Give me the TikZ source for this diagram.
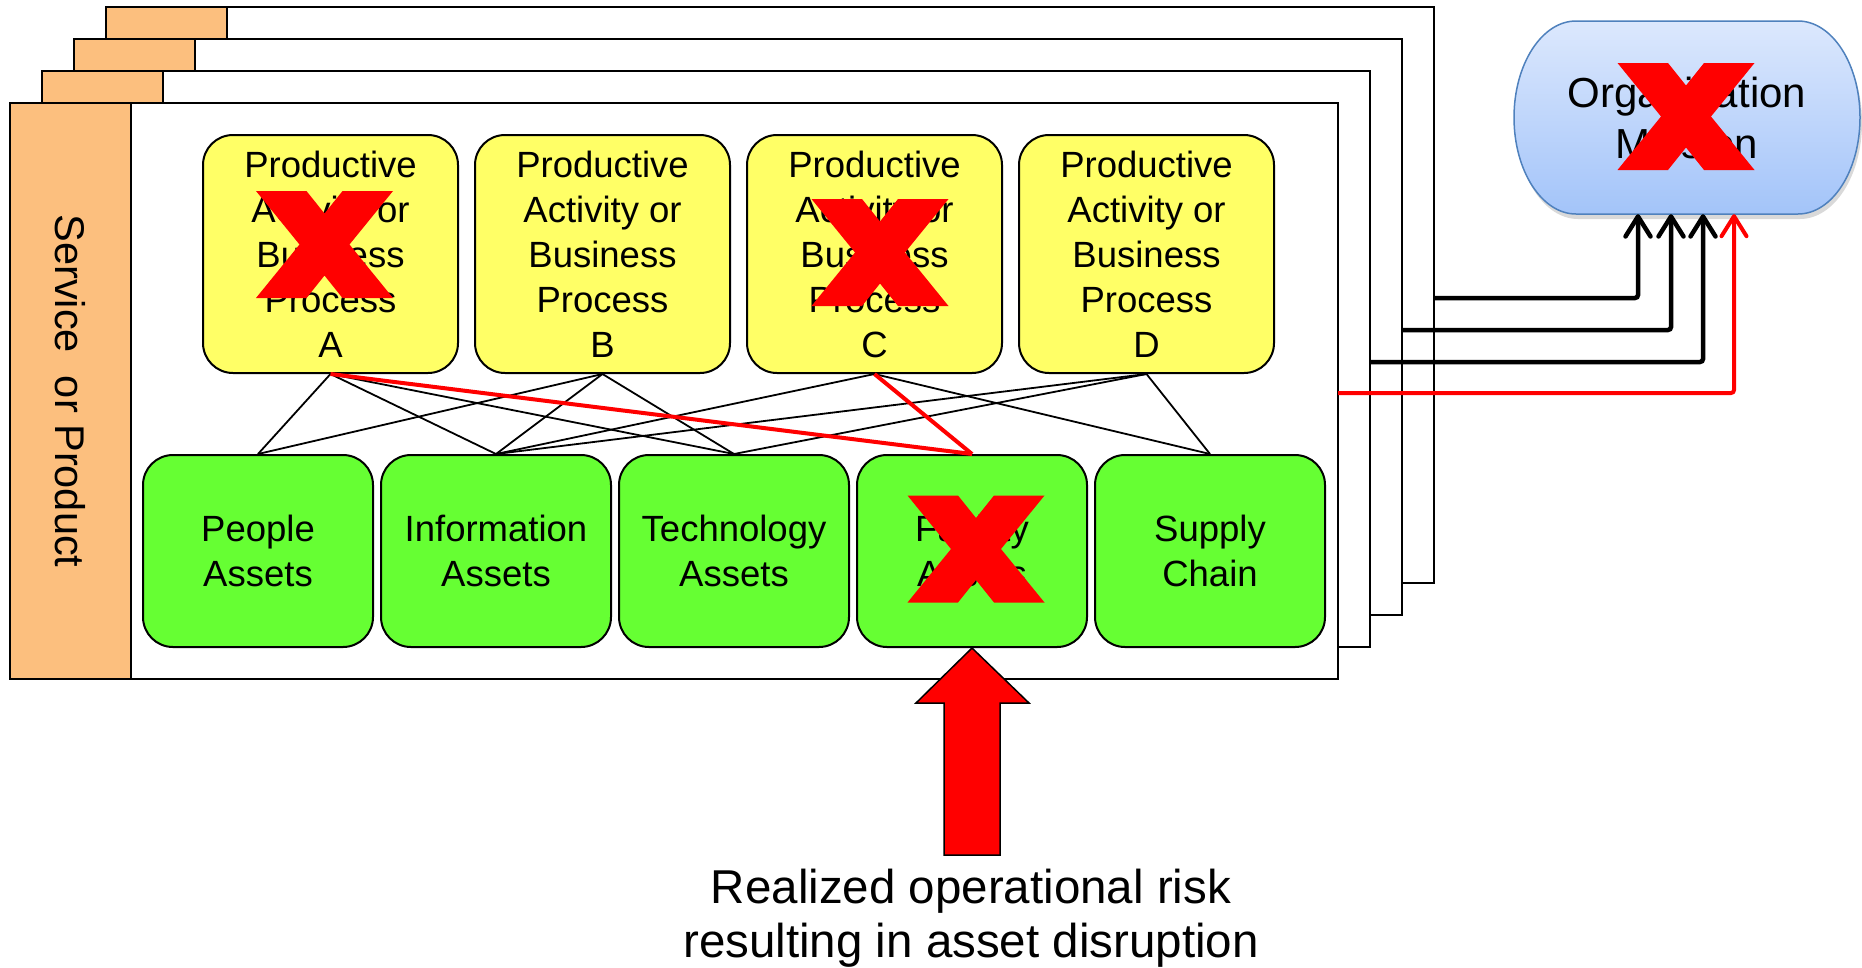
\documentclass[tikz,border=0pt]{standalone}
\usepackage{fontspec}
\setmainfont{Liberation Sans}
\usetikzlibrary{arrows.meta,shadows}
\definecolor{orangeC}{HTML}{FCBF7E}
\definecolor{yellowC}{HTML}{FFFF66}
\definecolor{greenC}{HTML}{66FF33}
\definecolor{blueTop}{HTML}{DCE8FD}
\definecolor{blueBot}{HTML}{A3C4F9}
\definecolor{blueLine}{HTML}{4F81BD}
\tikzset{
  framebox/.style={draw=black,line width=2.5pt,fill=white,inner sep=0pt,outer sep=0pt,minimum width=1328pt,minimum height=576pt},
  bandbox/.style={draw=black,line width=2.5pt,fill=orangeC},
  procbox/.style={draw=black,line width=2pt,fill=yellowC,rounded corners=30pt,minimum width=255pt,minimum height=238pt,align=center,inner sep=0pt,font=\fontsize{36.5}{45}\selectfont},
  assetbox/.style={draw=black,line width=2pt,fill=greenC,rounded corners=30pt,minimum width=230pt,minimum height=192pt,align=center,inner sep=0pt,font=\fontsize{36.5}{45}\selectfont},
  link/.style={line width=1.8pt,black},
  redlink/.style={line width=4pt,red},
  missionarrow/.style={line width=4.5pt,rounded corners=3pt,-{Straight Barb[length=20pt,width=25pt,round]}},
  redx/.pic={\fill[red] (-68.5,-53.5) -- (-18,-53.5) -- (0,-31) -- (18,-53.5) -- (68.5,-53.5) -- (25,0) -- (68.5,53.5) -- (18,53.5) -- (0,31) -- (-18,53.5) -- (-68.5,53.5) -- (-25,0) -- cycle;}
}
\begin{document}
\begin{tikzpicture}[x=1pt,y=-1pt]
\useasboundingbox (0,0) rectangle (1862,967);
% stacked frames, back to front
\node[framebox] (f4) at (770,295) {};
\draw[bandbox] (f4.north west) rectangle ++(121,576);
\node[framebox] (f3) at (738,327) {};
\draw[bandbox] (f3.north west) rectangle ++(121,576);
\node[framebox] (f2) at (706,359) {};
\draw[bandbox] (f2.north west) rectangle ++(121,576);
\node[framebox] (f1) at (674,391) {};
\draw[bandbox] (f1.north west) rectangle ++(121,576);
\node[rotate=-90,font=\fontsize{41.5}{48}\selectfont,inner sep=0pt] (svc) at (70.5,391) {Service\ \ or Product};
% processes
\node[procbox] (pA) at (330.5,254) {Productive\\Activity or\\Business\\Process\\A};
\node[procbox] (pB) at (602.5,254) {Productive\\Activity or\\Business\\Process\\B};
\node[procbox] (pC) at (874.5,254) {Productive\\Activity or\\Business\\Process\\C};
\node[procbox] (pD) at (1146.5,254) {Productive\\Activity or\\Business\\Process\\D};
% assets
\node[assetbox] (gP) at (258,551) {People\\Assets};
\node[assetbox] (gI) at (496,551) {Information\\Assets};
\node[assetbox] (gT) at (734,551) {Technology\\Assets};
\node[assetbox] (gF) at (972,551) {Facility\\Assets};
\node[assetbox] (gS) at (1210,551) {Supply\\Chain};
% links
\draw[link] (pA.south) -- (gP.north);
\draw[link] (pA.south) -- (gI.north);
\draw[link] (pA.south) -- (gT.north);
\draw[link] (pB.south) -- (gP.north);
\draw[link] (pB.south) -- (gI.north);
\draw[link] (pB.south) -- (gT.north);
\draw[link] (pC.south) -- (gI.north);
\draw[link] (pC.south) -- (gS.north);
\draw[link] (pD.south) -- (gI.north);
\draw[link] (pD.south) -- (gT.north);
\draw[link] (pD.south) -- (gS.north);
\draw[redlink] (pA.south) -- (gF.north);
\draw[redlink] (pC.south) -- (gF.north);
% red crosses
\pic at (324.5,244.5) {redx};
\pic at (880,252.5) {redx};
\pic at (976,549) {redx};
% organization mission
\path[draw=blueLine,line width=1.5pt,top color=blueTop,bottom color=blueBot,
  drop shadow={opacity=0.3,shadow xshift=2pt,shadow yshift=-5pt}]
  (1576,21) -- (1798,21) .. controls (1832.2,21) and (1860,64.2) .. (1860,117.5)
  .. controls (1860,170.8) and (1832.2,214) .. (1798,214) -- (1576,214)
  .. controls (1541.8,214) and (1514,170.8) .. (1514,117.5)
  .. controls (1514,64.2) and (1541.8,21) .. (1576,21) -- cycle;
\node[font=\fontsize{42}{51}\selectfont,align=center,inner sep=0pt,minimum width=346pt,minimum height=193pt] (om) at (1687,117.5) {Organization\\Mission};
\pic at (1686,116.5) {redx};
% arrows to mission
\draw[missionarrow] (f4.east |- 0,298) -| (1638,0 |- om.south);
\draw[missionarrow] (f3.east |- 0,330) -| (1671,0 |- om.south);
\draw[missionarrow] (f2.east |- 0,362) -| (1703,0 |- om.south);
\draw[missionarrow,red,line width=4pt] (f1.east |- 0,393) -| (1734,0 |- om.south);
% realized risk arrow
\draw[line width=1.5pt,fill=red] (gF.south) -- ++(57,55) -- ++(-29,0) -- ++(0,152) -- ++(-56,0) -- ++(0,-152) -- ++(-28,0) -- cycle;
\node[font=\fontsize{47.5}{54}\selectfont,align=center,inner sep=0pt] (risk) at (971,918) {Realized operational risk\\resulting in asset disruption};
\end{tikzpicture}
\end{document}
